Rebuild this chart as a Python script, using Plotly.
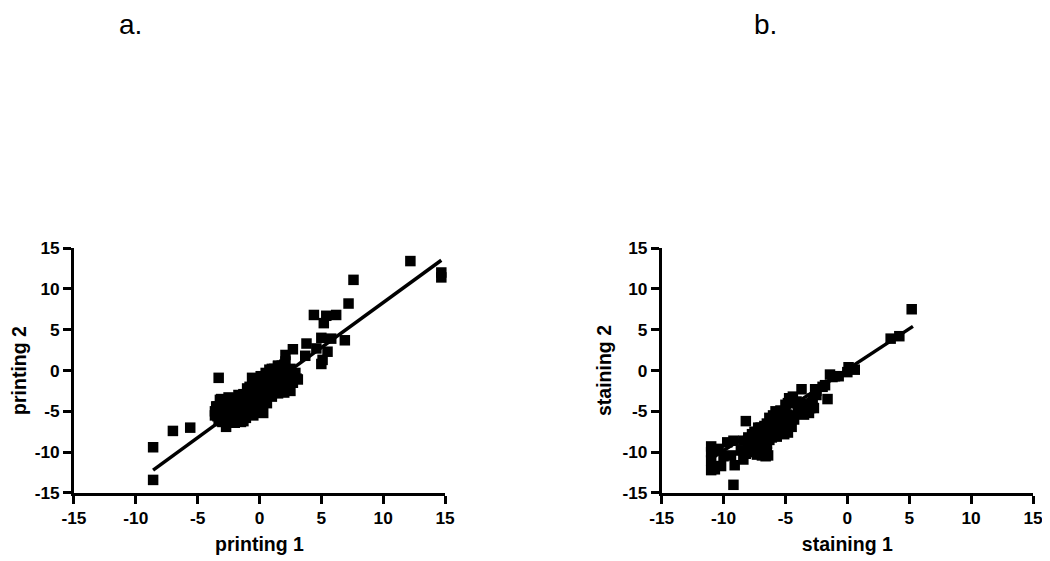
"""
plot.py

Two replicate scatter panels with fitted lines: printing and staining.
"""

import plotly.graph_objects as go

printing_1 = [
    12.2, 14.7, 14.7, 7.6, 7.2, 4.4, 5.4, 6.2, 5.2, 5.0, 5.8, 6.9, 5.5, 5.1, 5.0,
    3.8, 4.6, 3.7, 2.7, 2.1, -3.3, -8.6, -8.6, -7.0, -5.6, -0.6,
    -3.4, -3.4, -3.4, -3.3, -3.2, -3.1, -3.0, -3.0, -2.9, -2.8, -2.7, -2.6, -2.6,
    -2.5, -2.4, -2.3, -2.2, -2.2, -2.1, -2.0, -1.9, -1.8, -1.7, -1.6, -1.5, -1.5,
    -1.4, -1.3, -1.2, -1.1, -1.0, -1.0, -0.9, -0.8, -0.7, -0.6, -0.5, -0.4, -0.3,
    -0.2, -0.2, -0.1, 0.0, 0.1, 0.1, 0.2, 0.3, 0.4, 0.5, 0.5, 0.6, 0.7, 0.8, 0.9,
    1.0, 1.0, 1.1, 1.2, 1.3, 1.4, 1.5, 1.5, 1.6, 1.7, 1.8, 1.9, 2.0, 2.0, 2.1,
    2.2, 2.3, 2.4, 2.5, 2.6, 2.8, 3.0, -0.3, -0.1, 0.3, -2.7, 1.9, 2.4,
    -3.6, -3.6, -3.5, -3.1, -2.4, -1.7, -1.2, -0.7, -0.1, 0.4, 0.8, 1.3, 1.8,
    0.2, 0.3, 0.6, 1.0, 1.5, 2.0, 2.5, 3.1, 2.9, 2.7, -0.5, -1.3, -1.8, -0.8,
    0.0, -2.0, -1.0, -1.2, -2.0, -1.5, -2.5, 0.5, 1.5, 0.3, 1.0, 1.8,
    -1.0, -0.5, 0.0, 0.5, 1.0, 1.5, 2.0, -0.5, 0.0, 0.5, 1.0, 1.5, 2.0, 2.5,
    -1.5, -2.0, -2.5, -1.5, -2.5, -3.0,
]
printing_2 = [
    13.4, 12.0, 11.4, 11.1, 8.2, 6.8, 6.7, 6.8, 5.8, 4.0, 3.9, 3.7, 2.3, 1.3, 0.8,
    3.3, 2.7, 1.8, 2.6, 1.9, -0.9, -9.4, -13.4, -7.4, -7.0, -0.9,
    -5.0, -5.6, -4.4, -6.2, -3.6, -5.2, -4.4, -6.3, -5.6, -3.7, -6.9, -4.8, -6.1,
    -3.6, -5.4, -4.4, -6.0, -3.4, -5.0, -6.4, -3.8, -5.4, -3.0, -4.6, -6.3, -3.6,
    -5.4, -2.9, -4.4, -5.8, -2.2, -3.4, -4.9, -2.0, -3.4, -5.3, -1.6, -4.2, -2.8,
    -5.1, -1.3, -3.8, -2.2, -4.7, -0.7, -3.3, -1.7, -3.9, -0.3, -2.6, -1.2, -3.1,
    0.1, -1.9, -0.4, -2.8, -1.3, 0.2, -2.2, -0.8, 0.6, -2.4, -1.4, -0.2, -2.5,
    -0.9, 0.7, -1.7, 1.1, -0.3, -2.4, -1.1, 0.2, -0.6, -0.4, -1.0, -3.6, -1.8,
    -2.8, -5.5, -1.6, -1.2,
    -5.0, -5.5, -4.4, -3.5, -4.8, -5.8, -4.0, -4.6, -3.4, -3.2, -2.2, -2.6, -1.8,
    -4.9, -5.2, -4.0, -3.2, -2.8, -2.7, -2.5, -1.1, -0.3, -1.5, -5.5, -6.2, -6.2,
    -5.0, -4.2, -5.8, -4.6, -3.0, -3.4, -3.2, -3.3, -0.7, 0.5, -1.2, 0.2, 0.6,
    -3.5, -3.0, -2.5, -2.0, -1.5, -1.0, -0.5, -4.0, -3.5, -3.0, -2.5, -2.0, -1.5,
    -1.0, -4.5, -4.5, -4.5, -5.5, -5.5, -5.5,
]
printing_fit_x = [-8.6, 14.7]
printing_fit_y = [-12.2, 13.5]

staining_1 = [
    5.2, 3.5, 4.2, 0.1, 0.6, 0.0, -0.7, -1.2, -1.4, -1.8, -1.6, -2.6, -3.7, -8.2,
    -9.2, -9.1, -11.0, -11.0, -11.0, -10.7, -10.2, -10.4, -9.7, -9.2, -10.0, -9.4,
    -11.0, -8.6, -8.4, -8.4, -8.2, -8.0, -7.9, -7.7, -7.6, -7.4, -7.3, -7.2, -7.1,
    -7.0, -6.9, -6.8, -6.7, -6.6, -6.5, -6.4, -6.4, -6.3, -6.1, -6.0, -5.9, -5.8,
    -5.7, -5.6, -5.5, -5.4, -5.3, -5.2, -5.1, -5.0, -4.9, -4.8, -4.7, -4.6, -4.5,
    -4.4, -4.3, -4.1, -3.9, -3.7, -3.5, -3.3, -3.1, -2.9, -2.7, -2.5, -7.5, -6.7,
    -6.3, -5.2, -4.9, -8.0, -7.0, -6.0, -5.5, -4.6, -3.6, -3.0, -2.8,
    -7.5, -7.0, -6.5, -6.0, -5.5, -5.0, -4.5, -4.0, -6.5, -6.0, -5.5, -5.0,
    -4.8, -5.4, -6.0, -6.5, -7.0, -7.5, -8.0, -8.0, -7.5, -7.0, -6.5, -6.3,
    -4.5, -3.3, -2.5, -2.0, -1.0,
]
staining_2 = [
    7.5, 3.9, 4.2, 0.4, 0.1, -0.2, -0.7, -0.8, -0.5, -1.8, -3.5, -2.3, -2.3, -6.2,
    -14.0, -11.6, -9.3, -11.0, -12.2, -12.1, -11.7, -9.6, -8.8, -8.6, -10.5, -10.4,
    -10.0, -9.8, -10.9, -8.6, -10.2, -8.2, -9.4, -7.8, -9.8, -8.4, -10.3, -7.0,
    -9.1, -7.6, -10.4, -8.4, -6.8, -10.5, -9.0, -7.4, -10.4, -5.8, -8.2, -6.8,
    -7.4, -5.0, -8.1, -6.2, -7.6, -4.9, -7.0, -5.6, -7.8, -4.2, -6.4, -7.6, -3.4,
    -5.6, -6.9, -3.2, -6.0, -3.8, -5.0, -4.1, -5.4, -4.2, -5.2, -4.0, -4.6, -3.0,
    -8.8, -9.0, -7.4, -6.2, -5.4, -9.0, -8.0, -7.0, -6.4, -5.8, -5.0, -4.6, -3.4,
    -8.5, -8.0, -7.5, -7.0, -6.5, -6.0, -5.5, -5.0, -9.0, -8.0, -7.5, -7.5,
    -4.0, -5.0, -5.5, -6.5, -7.0, -7.5, -8.5, -9.5, -10.0, -9.5, -10.0, -8.5,
    -3.4, -4.4, -2.5, -2.0, -0.7,
]
staining_fit_x = [-11.2, 5.3]
staining_fit_y = [-11.0, 5.4]

tick_values = [-15, -10, -5, 0, 5, 10, 15]
tick_labels = ["-15", "-10", "-5", "0", "5", "10", "15"]
panel_labels = ["a.", "b."]

FONT = "Liberation Sans, Arial, sans-serif"

fig = go.Figure()

# Scatter points and fit line for each panel
panels = [
    (printing_1, printing_2, printing_fit_x, printing_fit_y, "x", "y"),
    (staining_1, staining_2, staining_fit_x, staining_fit_y, "x2", "y2"),
]
for xs, ys, fit_x, fit_y, x_axis, y_axis in panels:
    fig.add_trace(
        go.Scatter(
            x=xs,
            y=ys,
            xaxis=x_axis,
            yaxis=y_axis,
            mode="markers",
            marker=dict(symbol="square", size=10.5, color="black"),
            cliponaxis=False,
            showlegend=False
        )
    )
    fig.add_trace(
        go.Scatter(
            x=fit_x,
            y=fit_y,
            xaxis=x_axis,
            yaxis=y_axis,
            mode="lines",
            line=dict(color="black", width=3.5),
            cliponaxis=False,
            showlegend=False
        )
    )

axis_style = dict(
    range=[-15, 15],
    tickmode="array",
    tickvals=tick_values,
    ticktext=tick_labels,
    ticks="outside",
    ticklen=8,
    tickwidth=2.5,
    tickcolor="black",
    showline=True,
    linewidth=2.5,
    linecolor="black",
    showgrid=False,
    zeroline=False,
    automargin=False,
    tickfont=dict(family=FONT, size=17.3, color="black", weight="bold"),
)
title_font = dict(family=FONT, size=19.5, color="black", weight="bold")

# The page body adds 8px on the top and left, so the figure is 8px smaller
fig.update_layout(
    width=1042,
    height=553,
    margin=dict(l=0, r=0, t=0, b=0),
    paper_bgcolor="white",
    plot_bgcolor="white",
    xaxis=dict(
        axis_style, domain=[0.0633, 0.4194], anchor="y",
        title=dict(text="printing 1", font=title_font, standoff=10)
    ),
    yaxis=dict(
        axis_style, domain=[0.1230, 0.5660], anchor="x",
        title=dict(text="printing 2", font=title_font, standoff=6)
    ),
    xaxis2=dict(
        axis_style, domain=[0.6273, 0.9837], anchor="y2",
        title=dict(text="staining 1", font=title_font, standoff=10)
    ),
    yaxis2=dict(
        axis_style, domain=[0.1230, 0.5660], anchor="x2",
        title=dict(text="staining 2", font=title_font, standoff=6)
    ),
    annotations=[
        dict(
            text=panel_labels[0], x=0.1171, y=0.9702, xref="paper", yref="paper",
            xanchor="center", yanchor="middle",
            showarrow=False, font=dict(family=FONT, size=28, color="black")
        ),
        dict(
            text=panel_labels[1], x=0.7265, y=0.9702, xref="paper", yref="paper",
            xanchor="center", yanchor="middle",
            showarrow=False, font=dict(family=FONT, size=28, color="black")
        ),
    ],
)

fig.write_html("out.html")
